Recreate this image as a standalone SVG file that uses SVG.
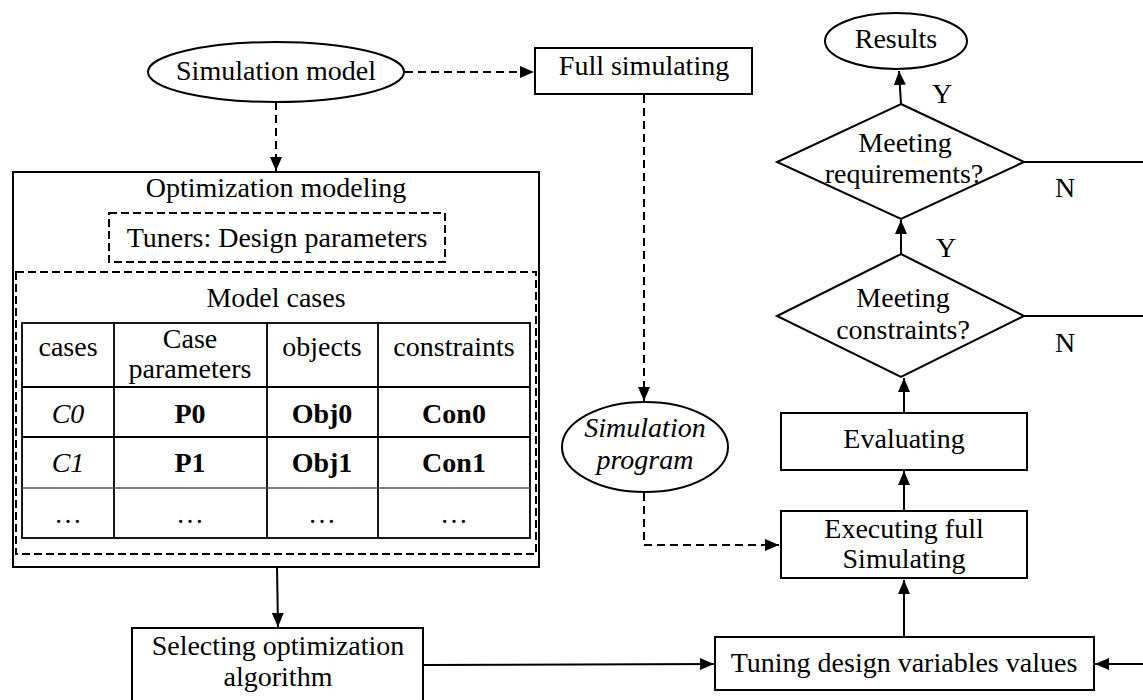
<svg xmlns="http://www.w3.org/2000/svg" width="1143" height="700" viewBox="0 0 1143 700">
<defs>
<marker id="ah" viewBox="0 0 14 12" refX="14" refY="6" markerWidth="14" markerHeight="12" markerUnits="userSpaceOnUse" orient="auto">
<path d="M0,0 L14,6 L0,12 Z" fill="#000"/>
</marker>
<style>
.s{fill:#fff;stroke:#000;stroke-width:2}
.d{fill:none;stroke:#000;stroke-width:2;stroke-dasharray:8 4}
.c{fill:none;stroke:#000;stroke-width:2}
.cd{fill:none;stroke:#000;stroke-width:2;stroke-dasharray:8 5}
.t{font-family:"Liberation Serif","Times New Roman",serif;font-size:28px;fill:#000;text-anchor:middle}
.i{font-style:italic}
.b{font-weight:bold}
.g{fill:none;stroke:#000;stroke-width:1.8}
</style>
</defs>
<rect width="1143" height="700" fill="#fff"/>

<g id="connectors">
<path class="cd" d="M405,72 L534,72" marker-end="url(#ah)"/>
<path class="cd" d="M276,102 L276,171" marker-end="url(#ah)"/>
<path class="cd" d="M644,95 L644,401" marker-end="url(#ah)"/>
<path class="cd" d="M644,493 L644,545 L779,545" marker-end="url(#ah)"/>
<path class="c" d="M277,567 L278,627" marker-end="url(#ah)"/>
<path class="c" d="M423,665 L714,664" marker-end="url(#ah)"/>
<path class="c" d="M904,637 L904,580" marker-end="url(#ah)"/>
<path class="c" d="M1143,664 L1095,664" marker-end="url(#ah)"/>
<path class="c" d="M904,511 L904,471" marker-end="url(#ah)"/>
<path class="c" d="M904,413 L904,378" marker-end="url(#ah)"/>
<path class="c" d="M901,254 L901,220" marker-end="url(#ah)"/>
<path class="c" d="M901,104 L899,71" marker-end="url(#ah)"/>
<path class="c" d="M1024,162 L1143,162"/>
<path class="c" d="M1024,316 L1143,316"/>
<text class="t" x="942" y="103">Y</text>
<text class="t" x="946" y="257">Y</text>
<text class="t" x="1065" y="197">N</text>
<text class="t" x="1065" y="352">N</text>
</g>

<g id="sim-model">
<ellipse class="s" cx="276" cy="72" rx="128" ry="30"/>
<text class="t" x="276" y="80">Simulation model</text>
</g>

<g id="full-sim">
<rect class="s" x="535" y="48" width="217" height="46"/>
<text class="t" x="644" y="75">Full simulating</text>
</g>

<g id="opt-modeling">
<rect class="s" x="13" y="172" width="526" height="395"/>
<text class="t" x="276" y="197">Optimization modeling</text>
<rect class="d" x="109" y="213" width="336" height="49"/>
<text class="t" x="277" y="247">Tuners: Design parameters</text>
<rect class="d" x="16" y="272" width="520" height="282"/>
<text class="t" x="276" y="307">Model cases</text>
<g id="table">
<rect class="g" x="22" y="323" width="508" height="215"/>
<path class="g" d="M22,387 H530 M22,437 H530 M114,323 V538 M267,323 V538 M378,323 V538"/>
<path fill="none" stroke="#555" stroke-width="1.5" d="M22,488 H530"/>
<text class="t" x="68" y="356">cases</text>
<text class="t" x="190" y="348">Case</text>
<text class="t" x="190" y="378">parameters</text>
<text class="t" x="322" y="356">objects</text>
<text class="t" x="454" y="356">constraints</text>
<text class="t i" x="68" y="423">C0</text>
<text class="t b" x="190" y="423">P0</text>
<text class="t b" x="322" y="423">Obj0</text>
<text class="t b" x="454" y="423">Con0</text>
<text class="t i" x="68" y="472">C1</text>
<text class="t b" x="190" y="472">P1</text>
<text class="t b" x="322" y="472">Obj1</text>
<text class="t b" x="454" y="472">Con1</text>
<text class="t" x="68" y="523">…</text>
<text class="t" x="190" y="523">…</text>
<text class="t" x="322" y="523">…</text>
<text class="t" x="454" y="523">…</text>
</g>
</g>

<g id="sim-program">
<ellipse class="s" cx="645" cy="447" rx="83" ry="45"/>
<text class="t i" x="645" y="437">Simulation</text>
<text class="t i" x="645" y="469">program</text>
</g>

<g id="results">
<ellipse class="s" cx="896" cy="41" rx="71" ry="28"/>
<text class="t" x="896" y="48">Results</text>
</g>

<g id="meet-req">
<polygon class="s" points="901,104 1024,162 901,219 777,162"/>
<text class="t" x="905" y="152">Meeting</text>
<text class="t" x="904" y="183">requirements?</text>
</g>

<g id="meet-con">
<polygon class="s" points="901,254 1024,316 901,377 777,316"/>
<text class="t" x="903" y="307">Meeting</text>
<text class="t" x="903" y="339">constraints?</text>
</g>

<g id="evaluating">
<rect class="s" x="781" y="413" width="246" height="57"/>
<text class="t" x="904" y="448">Evaluating</text>
</g>

<g id="executing">
<rect class="s" x="781" y="511" width="246" height="67"/>
<text class="t" x="904" y="538">Executing full</text>
<text class="t" x="904" y="568">Simulating</text>
</g>

<g id="tuning">
<rect class="s" x="715" y="637" width="379" height="53"/>
<text class="t" x="904" y="672">Tuning design variables values</text>
</g>

<g id="selecting">
<rect class="s" x="132" y="628" width="291" height="80"/>
<text class="t" x="278" y="655">Selecting optimization</text>
<text class="t" x="278" y="686">algorithm</text>
</g>
</svg>
